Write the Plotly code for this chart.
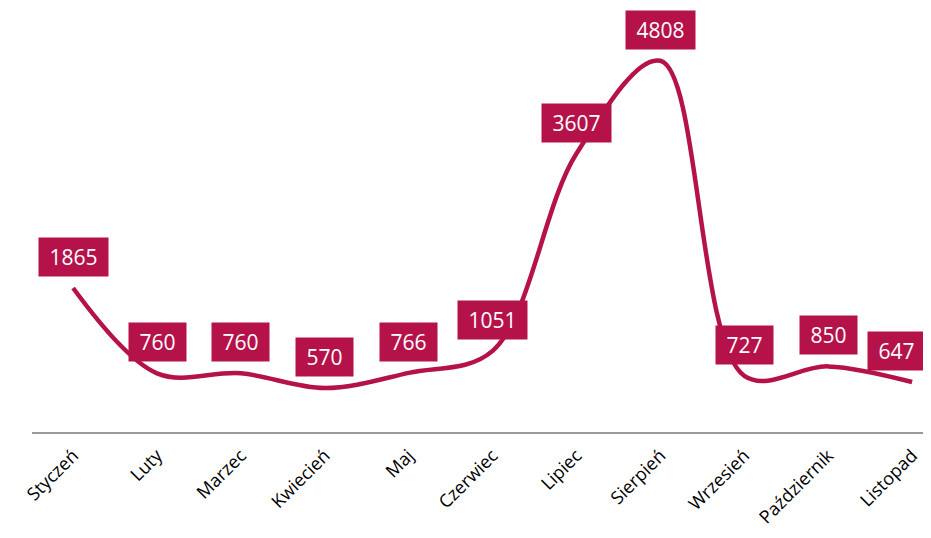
import plotly.graph_objects as go

months = ["Styczeń", "Luty", "Marzec", "Kwiecień", "Maj", "Czerwiec",
          "Lipiec", "Sierpień", "Wrzesień", "Październik", "Listopad"]
values = [1865, 760, 760, 570, 766, 1051, 3607, 4808, 727, 850, 647]

COLOR = "#B5124A"

fig = go.Figure(
    go.Scatter(
        x=months,
        y=values,
        mode="lines",
        line=dict(color=COLOR, width=4.5, shape="spline", smoothing=1.0),
        hoverinfo="x+y",
    )
)

for i, (m, v) in enumerate(zip(months, values)):
    # ostatnia etykieta przesunięta w lewo, żeby zmieściła się w obrazku
    fig.add_annotation(
        x=m, y=v, text=f"\u00a0{v}\u00a0", showarrow=False, yshift=31,
        xshift=-16 if i == len(months) - 1 else 0,
        bgcolor=COLOR, borderpad=5,
        font=dict(color="white", size=21, family="Open Sans"),
    )

# strona ma domyślny margines body 8px -> figura mniejsza, żeby nie było przewijania
fig.update_layout(
    width=915,
    height=522,
    margin=dict(l=24, r=0, t=0, b=98),
    plot_bgcolor="white",
    paper_bgcolor="white",
    showlegend=False,
    font=dict(family="Open Sans", color="black"),
    xaxis=dict(
        range=[-0.49, 10.13],
        automargin=False,
        showgrid=False,
        showline=True,
        linecolor="#999999",
        linewidth=2,
        ticks="",
        tickangle=-45,
        ticklabelstandoff=4,
        tickfont=dict(size=18, color="black"),
    ),
    yaxis=dict(range=[0, 5492], visible=False),
)

fig.write_html("out.html")
